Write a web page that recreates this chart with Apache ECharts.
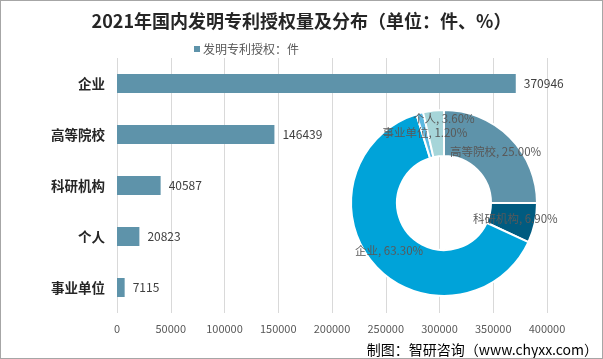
<!DOCTYPE html>
<html>
<head>
<meta charset="utf-8">
<script src="https://cdn.jsdelivr.net/npm/echarts@6/dist/echarts.min.js"></script>
<style>
html,body{margin:0;padding:0;background:#fff;}
#c{width:601px;height:357px;border:1px solid #a6a6a6;}
</style>
</head>
<body>
<div id="c"></div>
<script>
const categories = ['企业', '高等院校', '科研机构', '个人', '事业单位'];
const barValues = [370946, 146439, 40587, 20823, 7115];
const xTicks = [0, 50000, 100000, 150000, 200000, 250000, 300000, 350000, 400000];
const pieNames = ['高等院校', '科研机构', '企业', '事业单位', '个人'];
const piePercents = [25.00, 6.90, 63.30, 1.20, 3.60];
const pieColors = ['#5e93aa', '#005b80', '#00a3d9', '#5db8e0', '#a6d5d9'];

const chart = echarts.init(document.getElementById('c'));
const font = '"Microsoft YaHei","Noto Sans CJK SC",sans-serif';
chart.setOption({
  animation: false,
  textStyle: {fontFamily: font},
  title: {
    text: '2021年国内发明专利授权量及分布（单位：件、%）',
    left: 'center', top: 6,
    textStyle: {fontSize: 18, fontWeight: 'bold', color: '#262626', fontFamily: font}
  },
  legend: {
    data: ['发明专利授权：件'],
    left: 188, top: 37,
    itemWidth: 6, itemHeight: 6, itemGap: 4,
    icon: 'rect',
    textStyle: {fontSize: 12, color: '#595959', padding: [0,0,0,-2]}
  },
  grid: {left: 116, right: 55, top: 57, bottom: 45, containLabel: false},
  xAxis: {
    type: 'value', min: xTicks[0], max: xTicks[xTicks.length - 1], interval: xTicks[1] - xTicks[0],
    axisLine: {show: false}, axisTick: {show: false},
    splitLine: {lineStyle: {color: '#d9d9d9'}},
    axisLabel: {fontSize: 11, color: '#595959', margin: 10, formatter: v => String(v)}
  },
  yAxis: {
    type: 'category', data: categories, inverse: true,
    axisLine: {show: false}, axisTick: {show: false},
    axisLabel: {fontSize: 13.5, fontWeight: 'bold', color: '#262626', margin: 12}
  },
  series: [
    {
      name: '发明专利授权：件',
      type: 'bar', data: barValues, barWidth: 19,
      itemStyle: {color: '#5e93aa'},
      label: {show: true, position: 'right', distance: 8, fontSize: 12, color: '#404040'}
    },
    {
      type: 'pie', center: [443, 202], radius: [47, 93],
      startAngle: 90, clockwise: true,
      itemStyle: {borderColor: '#fff', borderWidth: 2},
      label: {
        show: true, position: 'inside', fontSize: 11.5, color: '#595959',
        formatter: p => p.name + ', ' + p.value.toFixed(2) + '%'
      },
      labelLine: {show: false},
      emphasis: {disabled: true},
      data: pieNames.map((n, i) => ({
        name: n, value: piePercents[i], itemStyle: {color: pieColors[i]},
        label: n === '个人' ? {offset: [8, -12]} : {}
      }))
    }
  ],
  graphic: [{
    type: 'text', right: 4, bottom: 1,
    style: {text: '制图：智研咨询（www.chyxx.com）', fontSize: 14, fill: '#000', fontFamily: font}
  }]
});
</script>
</body>
</html>
